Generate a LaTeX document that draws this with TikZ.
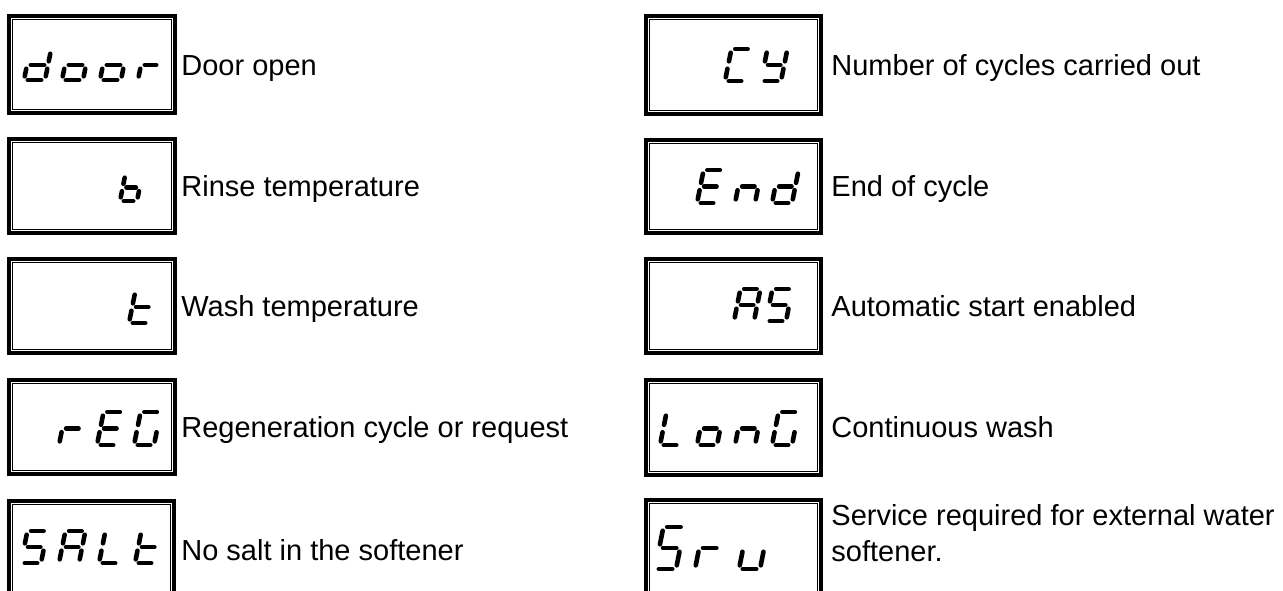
\documentclass[tikz,border=0pt]{standalone}
\usepackage{fontspec}
\setmainfont{Liberation Sans}
\tikzset{
  segline/.style={line width=2.3pt, line cap=round, shorten <=1.9pt, shorten >=1.9pt},
  boxouter/.style={line width=1.8pt},
  boxinner/.style={line width=0.55pt},
  lbl/.style={anchor=base west, inner sep=0pt, font=\fontsize{14.5pt}{17pt}\selectfont},
}
\newcommand\sga{\draw[segline] (0,\gH) -- (\gW,\gH);}
\newcommand\sgb{\draw[segline] (\gW,\gH) -- (\gW,\gM);}
\newcommand\sgc{\draw[segline] (\gW,\gM) -- (\gW,0);}
\newcommand\sgd{\draw[segline] (0,0) -- (\gW,0);}
\newcommand\sge{\draw[segline] (0,0) -- (0,\gM);}
\newcommand\sgf{\draw[segline] (0,\gM) -- (0,\gH);}
\newcommand\sgg{\draw[segline] (0,\gM) -- (\gW,\gM);}
\newcommand\segglyph[5]{%
  \begin{scope}[shift={(#1,#2)},yscale=-1,xslant=-0.2]
    \def\gH{#3}\def\gW{#4}\pgfmathsetmacro\gM{#3/2}%
    \edef\seglist{#5}%
    \foreach \s in \seglist {\csname sg\s\endcsname}%
  \end{scope}}
\def\LTd{b,c,d,e,g}
\def\LTo{c,d,e,g}
\def\LTr{e,g}
\def\LTb{c,d,e,f,g}
\def\LTt{d,e,f,g}
\def\LTE{a,d,e,f,g}
\def\LTG{a,c,d,e,f}
\def\LTC{a,d,e,f}
\def\LTY{b,c,d,f,g}
\def\LTn{c,e,g}
\def\LTA{a,b,c,e,f,g}
\def\LTS{a,c,d,f,g}
\def\LTL{d,e,f}
\def\LTu{c,d,e}
\newcommand\dispbox[4]{%
  \draw[boxouter] (#1+1.8,#2+1.8) rectangle (#3-1.8,#4-1.8);
  \draw[boxinner] (#1+5.6,#2+5.6) rectangle (#3-5.6,#4-5.6);}
\begin{document}
\begin{tikzpicture}[x=0.5pt,y=-0.5pt]
\useasboundingbox (0,0) rectangle (1283,590);
\clip (0,0) rectangle (1283,590);
% boxes left
\dispbox{7}{14}{177}{115}
\dispbox{7}{137}{177}{235}
\dispbox{7}{257}{177}{355}
\dispbox{7}{378}{177}{476}
\dispbox{7}{499}{176}{600}
% boxes right
\dispbox{644}{14}{823}{116}
\dispbox{644}{138}{823}{235}
\dispbox{644}{257}{823}{355}
\dispbox{644}{378}{823}{477}
\dispbox{644}{498}{823}{600}
% glyphs left
\segglyph{24}{80}{30}{21}{\LTd}
\segglyph{62}{80}{30}{21}{\LTo}
\segglyph{100}{80}{30}{21}{\LTo}
\segglyph{138}{80}{30}{19}{\LTr}
\segglyph{120}{201}{27}{17}{\LTb}
\segglyph{129}{323}{32}{20}{\LTt}
\segglyph{59}{445}{33}{20}{\LTr}
\segglyph{97}{445}{33}{20}{\LTE}
\segglyph{134}{445}{33}{20}{\LTG}
\segglyph{21}{563}{32}{20}{\LTS}
\segglyph{59}{563}{32}{20}{\LTA}
\segglyph{99}{563}{32}{20}{\LTL}
\segglyph{135}{563}{32}{20}{\LTt}
% glyphs right
\segglyph{725}{81}{32}{20}{\LTC}
\segglyph{761}{81}{32}{20}{\LTY}
\segglyph{697}{203}{33}{20}{\LTE}
\segglyph{735}{203}{33}{20}{\LTn}
\segglyph{772}{203}{33}{20}{\LTd}
\segglyph{734}{321}{32}{20}{\LTA}
\segglyph{766}{321}{32}{20}{\LTS}
\segglyph{660}{445}{33}{20}{\LTL}
\segglyph{697}{445}{33}{20}{\LTo}
\segglyph{735}{445}{33}{20}{\LTn}
\segglyph{772}{445}{33}{20}{\LTG}
\segglyph{655}{569}{42}{21}{\LTS}
\segglyph{695}{569}{42}{21}{\LTr}
\segglyph{739}{569}{42}{21}{\LTu}
% labels
\node[lbl] (t1) at (181,75) {Door open};
\node[lbl] (t2) at (181,196.5) {Rinse temperature};
\node[lbl] (t3) at (181,316.5) {Wash temperature};
\node[lbl] (t4) at (181,437.5) {Regeneration cycle or request};
\node[lbl] (t5) at (181,560) {No salt in the softener};
\node[lbl] (t6) at (831,75) {Number of cycles carried out};
\node[lbl] (t7) at (831,196.5) {End of cycle};
\node[lbl] (t8) at (831,316.5) {Automatic start enabled};
\node[lbl] (t9) at (831,437.5) {Continuous wash};
\node[lbl] (t10a) at (831,525) {Service required for external water};
\node[lbl] (t10b) at (831,561) {softener.};
\end{tikzpicture}
\end{document}
